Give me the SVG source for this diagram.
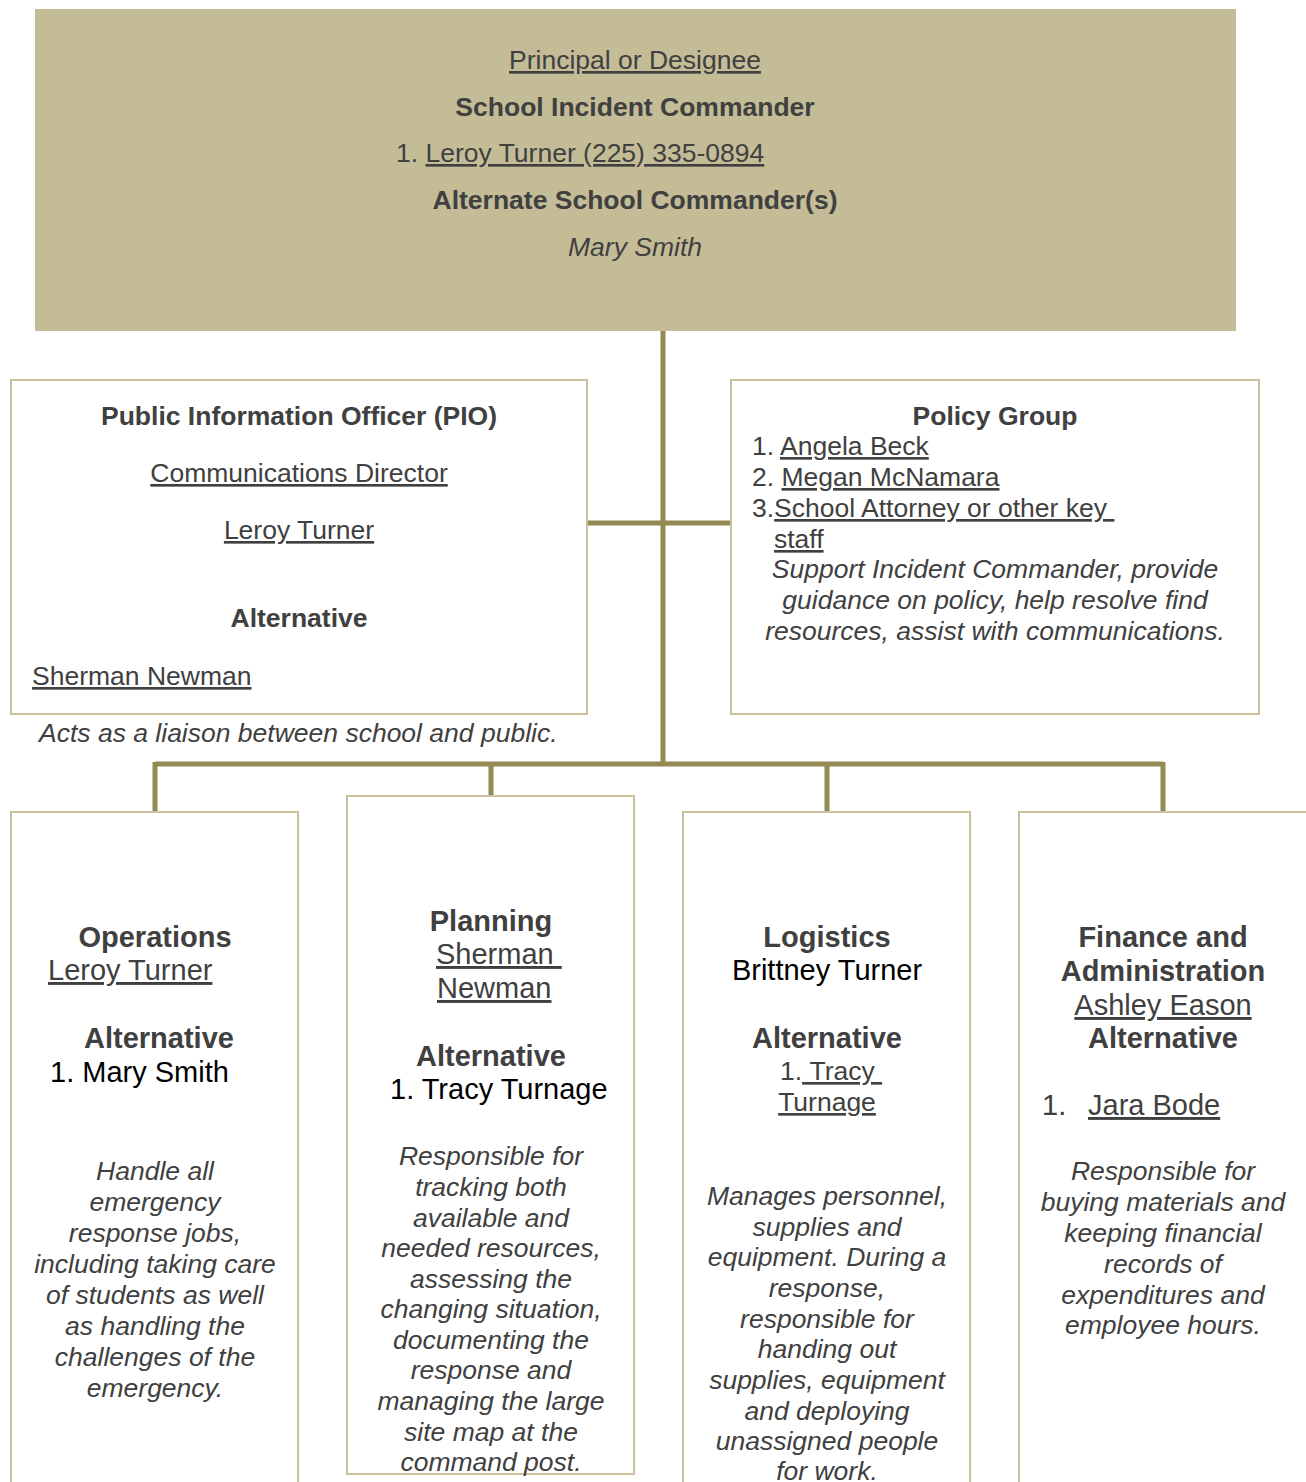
<svg xmlns="http://www.w3.org/2000/svg" width="1306" height="1482" viewBox="0 0 1306 1482">
<style>
text{font-family:"Liberation Sans",Arial,sans-serif;fill:#404040;font-size:26.5px}
.b{font-weight:bold}
.i{font-style:italic}
.u{text-decoration:underline}
.c{text-anchor:middle}
.big{font-size:29px}
.k{fill:#000}
.box{fill:#fff;stroke:#C9C19C;stroke-width:2}
.conn{fill:none;stroke:#938953;stroke-width:5}
</style>
<rect width="1306" height="1482" fill="#fff"/>
<g id="connectors">
<path class="conn" d="M663 331V764M587 523H731M155 764H1163M155 762V812M491 762V812M827 762V812M1163 762V812"/>
</g>
<g id="commander">
<rect x="35" y="9" width="1201" height="322" fill="#C4BC96"/>
<text x="635" y="69" class="c u">Principal or Designee</text>
<text x="635" y="116" class="c b">School Incident Commander</text>
<text x="396" y="162">1. <tspan class="u">Leroy Turner (225) 335-0894</tspan></text>
<text x="635" y="209" class="c b">Alternate School Commander(s)</text>
<text x="635" y="256" class="c i">Mary Smith</text>
</g>
<g id="pio">
<rect class="box" x="11" y="380" width="576" height="334"/>
<text x="299" y="425" class="c b">Public Information Officer (PIO)</text>
<text x="299" y="482" class="c u">Communications Director</text>
<text x="299" y="539" class="c u">Leroy Turner</text>
<text x="299" y="627" class="c b">Alternative</text>
<text x="32" y="685" class="u">Sherman Newman</text>
<text x="39" y="742" class="i">Acts as a liaison between school and public.</text>
</g>
<g id="policy">
<rect class="box" x="731" y="380" width="528" height="334"/>
<text x="995" y="425" class="c b">Policy Group</text>
<text x="752" y="455">1. <tspan class="u">Angela Beck</tspan></text>
<text x="752" y="486">2. <tspan class="u">Megan McNamara</tspan></text>
<text x="752" y="517">3.<tspan class="u">School Attorney or other key&#160;</tspan></text>
<text x="774" y="548" class="u">staff</text>
<text x="995" y="578" class="c i">Support Incident Commander, provide</text>
<text x="995" y="609" class="c i">guidance on policy, help resolve find</text>
<text x="995" y="640" class="c i">resources, assist with communications.</text>
</g>
<g id="operations">
<rect class="box" x="11" y="812" width="287" height="690"/>
<text x="155" y="947" class="c b big">Operations</text>
<text x="48" y="980" class="u big">Leroy Turner</text>
<text x="159" y="1048" class="c b big">Alternative</text>
<text x="50" y="1082" class="big k">1. Mary Smith</text>
<text class="c i" x="155"><tspan x="155" y="1180">Handle all</tspan><tspan x="155" y="1211">emergency</tspan><tspan x="155" y="1242">response jobs,</tspan><tspan x="155" y="1273">including taking care</tspan><tspan x="155" y="1304">of students as well</tspan><tspan x="155" y="1335">as handling the</tspan><tspan x="155" y="1366">challenges of the</tspan><tspan x="155" y="1397">emergency.</tspan></text>
</g>
<g id="planning">
<rect class="box" x="347" y="796" width="287" height="678"/>
<text x="491" y="931" class="c b big">Planning</text>
<text x="436" y="964" class="u big">Sherman&#160;</text>
<text x="437" y="998" class="u big">Newman</text>
<text x="491" y="1066" class="c b big">Alternative</text>
<text x="390" y="1099" class="big k">1. Tracy Turnage</text>
<text class="c i"><tspan x="491" y="1165">Responsible for</tspan><tspan x="491" y="1196">tracking both</tspan><tspan x="491" y="1227">available and</tspan><tspan x="491" y="1257">needed resources,</tspan><tspan x="491" y="1288">assessing the</tspan><tspan x="491" y="1318">changing situation,</tspan><tspan x="491" y="1349">documenting the</tspan><tspan x="491" y="1379">response and</tspan><tspan x="491" y="1410">managing the large</tspan><tspan x="491" y="1441">site map at the</tspan><tspan x="491" y="1471">command post.</tspan></text>
</g>
<g id="logistics">
<rect class="box" x="683" y="812" width="287" height="690"/>
<text x="827" y="947" class="c b big">Logistics</text>
<text x="827" y="980" class="c big k">Brittney Turner</text>
<text x="827" y="1048" class="c b big">Alternative</text>
<text x="780" y="1080">1.<tspan class="u">&#160;Tracy&#160;</tspan></text>
<text x="827" y="1111" class="c u">Turnage</text>
<text class="c i"><tspan x="827" y="1205">Manages personnel,</tspan><tspan x="827" y="1236">supplies and</tspan><tspan x="827" y="1266">equipment. During a</tspan><tspan x="827" y="1297">response,</tspan><tspan x="827" y="1328">responsible for</tspan><tspan x="827" y="1358">handing out</tspan><tspan x="827" y="1389">supplies, equipment</tspan><tspan x="827" y="1420">and deploying</tspan><tspan x="827" y="1450">unassigned people</tspan><tspan x="827" y="1480">for work.</tspan></text>
</g>
<g id="finance">
<rect class="box" x="1019" y="812" width="300" height="690"/>
<text x="1163" y="947" class="c b big">Finance and</text>
<text x="1163" y="981" class="c b big">Administration</text>
<text x="1163" y="1015" class="c u big">Ashley Eason</text>
<text x="1163" y="1048" class="c b big">Alternative</text>
<text x="1042" y="1115" class="big">1.</text>
<text x="1088" y="1115" class="u big">Jara Bode</text>
<text class="c i"><tspan x="1163" y="1180">Responsible for</tspan><tspan x="1163" y="1211">buying materials and</tspan><tspan x="1163" y="1242">keeping financial</tspan><tspan x="1163" y="1273">records of</tspan><tspan x="1163" y="1304">expenditures and</tspan><tspan x="1163" y="1334">employee hours.</tspan></text>
</g>
</svg>
